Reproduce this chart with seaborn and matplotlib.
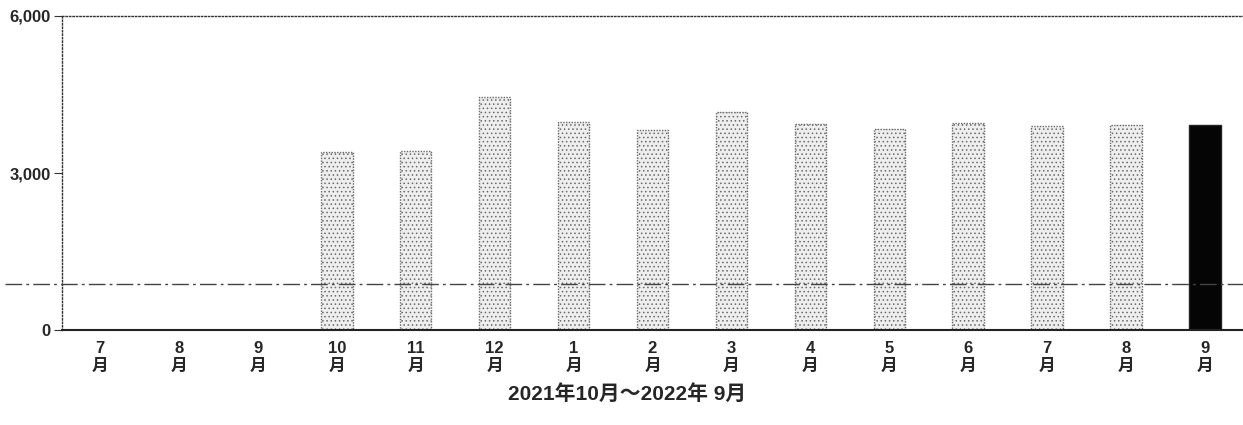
import matplotlib
matplotlib.use("Agg")
import matplotlib.pyplot as plt
import seaborn as sns
import pandas as pd

# ---- data ----
month_keys = ["2021-07", "2021-08", "2021-09", "2021-10", "2021-11", "2021-12",
              "2022-01", "2022-02", "2022-03", "2022-04", "2022-05", "2022-06",
              "2022-07", "2022-08", "2022-09"]
tick_labels = ["7\n月", "8\n月", "9\n月", "10\n月", "11\n月", "12\n月",
               "1\n月", "2\n月", "3\n月", "4\n月", "5\n月", "6\n月",
               "7\n月", "8\n月", "9\n月"]
values = [0, 0, 0, 3400, 3420, 4450, 3975, 3830, 4165, 3935, 3840, 3955, 3900, 3915, 3915]
reference_line = 880
y_ticks = [0, 3000, 6000]
y_tick_labels = ["0", "3,000", "6,000"]
title = "2021年10月～2022年 9月"

sns.set_theme(style="white")
plt.rcParams["font.family"] = ["Liberation Sans", "Noto Sans CJK JP", "DejaVu Sans"]
plt.rcParams["hatch.linewidth"] = 0.6

df = pd.DataFrame({"month": month_keys, "value": values})
palette = {k: "#eeeeee" for k in month_keys}
palette[month_keys[-1]] = "#050505"

fig = plt.figure(figsize=(12.43, 4.25), dpi=100)
ax = fig.add_axes([62 / 1243, (425 - 330) / 425, 1 - 62 / 1243, (330 - 16) / 425])

sns.barplot(data=df, x="month", y="value", hue="month", palette=palette,
            legend=False, width=0.4, ax=ax, saturation=1)

for i, patch in enumerate(ax.patches):
    if i == len(month_keys) - 1:
        patch.set_edgecolor("#222222")
        patch.set_linewidth(1.0)
    else:
        patch.set_edgecolor("#6a6a6a")
        patch.set_hatch("....")
        patch.set_linewidth(1.0)
        patch.set_linestyle((0, (1, 1)))

ax.set_xlim(-0.48, len(month_keys) - 0.52)
ax.set_ylim(0, 6000)
ax.set_yticks(y_ticks)
ax.set_yticklabels(y_tick_labels, fontsize=12, fontweight="bold")
ax.set_xticks(range(len(month_keys)))
ax.set_xticklabels(tick_labels, fontsize=12, fontweight="bold", linespacing=1.25)
ax.tick_params(axis="x", length=0, pad=8)
ax.tick_params(axis="y", length=6, width=0.8, color="#333333", pad=2, left=True)
ax.set_xlabel("")
ax.set_ylabel("")

ax.axhline(reference_line, xmin=-0.048, xmax=1, color="#444444", lw=1.0,
           linestyle=(0, (12, 3, 2, 3)), clip_on=False, zorder=5)

for side in ["left", "top"]:
    ax.spines[side].set_linestyle((0, (1, 1.5)))
    ax.spines[side].set_color("#333333")
    ax.spines[side].set_linewidth(1.0)
ax.spines["right"].set_visible(False)
ax.spines["bottom"].set_color("#222222")
ax.spines["bottom"].set_linewidth(1.5)

fig.text(627 / 1243, (425 - 394) / 425, title, ha="center", va="center",
         fontsize=15, fontweight="bold")

fig.savefig("out.png", dpi=100)
